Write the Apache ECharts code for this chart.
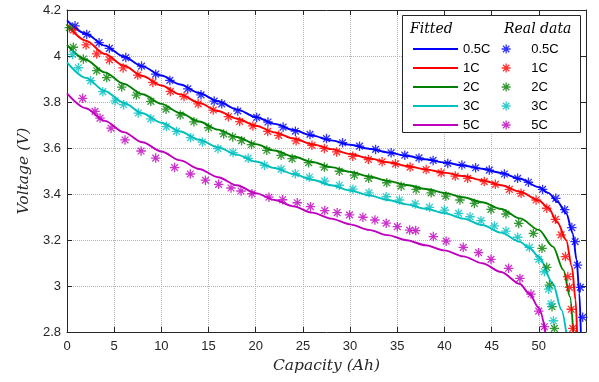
<!DOCTYPE html>
<html><head><meta charset="utf-8">
<script src="https://cdn.jsdelivr.net/npm/echarts@6/dist/echarts.min.js"></script>
<style>html,body{margin:0;padding:0;background:#fff}#c{width:599px;height:382px}</style>
</head><body><div id="c"></div>
<script>
// ---- data ----
const rateLabels = ['0.5C', '1C', '2C', '3C', '5C'];
const xTicks = [0, 5, 10, 15, 20, 25, 30, 35, 40, 45, 50];
const yTicks = [2.8, 3, 3.2, 3.4, 3.6, 3.8, 4, 4.2];

// fitted curves
const fitX05 = [0,2,4,6,8,10,12,14,16,18,20,22,24,26,28,30,32,34,36,38,40,42,44,46,48,50,51,52,52.9,53.6,54.0,54.3,54.45];
const fitV05 = [4.155,4.097,4.045,3.998,3.955,3.915,3.876,3.839,3.803,3.768,3.735,3.705,3.678,3.654,3.633,3.614,3.597,3.581,3.566,3.551,3.537,3.524,3.510,3.492,3.466,3.430,3.405,3.365,3.316,3.229,3.113,2.968,2.80];
const fitX1 = [0,2,4,6,8,10,12,14,16,18,20,22,24,26,28,30,32,34,36,38,40,42,44,46,48,50,51,52,52.9,53.5,53.9,54.05];
const fitV1 = [4.135,4.067,4.009,3.959,3.913,3.872,3.833,3.796,3.761,3.728,3.697,3.668,3.641,3.617,3.595,3.574,3.555,3.538,3.522,3.507,3.493,3.478,3.460,3.438,3.410,3.372,3.340,3.275,3.200,3.084,2.939,2.80];
const fitX2 = [0,2,4,6,8,10,12,14,16,18,20,22,24,26,28,30,32,34,36,38,40,42,44,46,48,50,51.5,52.6,53.3,53.65];
const fitV2 = [4.048,3.984,3.929,3.879,3.834,3.792,3.752,3.715,3.680,3.648,3.617,3.589,3.563,3.539,3.517,3.496,3.476,3.457,3.439,3.422,3.405,3.386,3.364,3.335,3.294,3.244,3.171,3.070,2.954,2.80];
const fitX3 = [0,2,4,6,8,10,12,14,16,18,20,22,24,26,28,30,32,34,36,38,40,42,44,46,48,49,50,51.5,52.4,52.9];
const fitV3 = [3.972,3.905,3.848,3.797,3.751,3.710,3.672,3.636,3.603,3.571,3.541,3.513,3.487,3.462,3.438,3.415,3.394,3.374,3.355,3.336,3.317,3.293,3.265,3.232,3.192,3.165,3.128,3.010,2.896,2.80];
const fitX5 = [0,2,4,6,8,10,12,14,16,18,20,22,24,26,28,30,32,34,36,38,40,42,44,46,48,49,50,50.7];
const fitV5 = [3.837,3.773,3.718,3.669,3.625,3.585,3.546,3.509,3.473,3.438,3.404,3.374,3.346,3.319,3.293,3.268,3.244,3.221,3.199,3.177,3.155,3.129,3.099,3.061,3.009,2.966,2.905,2.80];

// measured data
const realX05 = [0.85,2.09,3.40,4.49,6.23,7.9,9.4,10.9,12.8,14.2,15.6,16.4,18.1,20.1,21.3,22.9,24.2,25.75,27.5,29.2,31.0,32.7,34.35,35.8,37.3,38.8,40.35,41.85,43.3,44.75,46.35,47.75,48.9,50.4,51.8,52.75,53.5,53.85,54.1,54.4,54.65];
const realV05 = [4.131,4.094,4.058,4.033,3.993,3.956,3.921,3.894,3.857,3.831,3.804,3.792,3.761,3.733,3.713,3.691,3.673,3.659,3.641,3.623,3.608,3.594,3.579,3.569,3.557,3.546,3.533,3.526,3.514,3.504,3.487,3.468,3.451,3.420,3.381,3.332,3.254,3.193,3.091,2.994,2.864];
const realX1 = [0.67,2.02,3.15,4.49,5.95,7.5,9.1,10.95,12.4,13.9,15.5,17.1,18.3,19.7,21.27,22.44,24.28,25.96,27.27,28.58,30.28,31.94,33.39,34.81,36.36,38.06,39.65,41.14,42.46,44.22,45.39,46.88,48.12,49.71,50.84,51.76,52.36,52.82,53.07,53.25,53.43,53.6];
const realV1 = [4.113,4.048,4.009,3.983,3.948,3.917,3.885,3.846,3.824,3.792,3.765,3.736,3.715,3.696,3.672,3.655,3.631,3.612,3.598,3.583,3.564,3.550,3.540,3.531,3.517,3.506,3.492,3.478,3.468,3.454,3.442,3.420,3.403,3.374,3.338,3.290,3.222,3.128,3.041,2.994,2.899,2.816];
const realX2 = [0.25,0.67,1.73,3.15,4.21,5.8,7.35,8.88,10.5,12.0,13.45,15.0,16.6,17.56,18.5,19.55,21.17,22.69,23.86,25.61,27.27,28.86,30.45,31.97,33.89,35.41,37.0,38.59,40.15,41.64,43.17,44.93,46.52,47.87,49.42,50.34,50.84,51.12,51.4,51.65];
const realV2 = [4.123,4.038,3.987,3.936,3.906,3.865,3.830,3.803,3.769,3.743,3.714,3.688,3.661,3.648,3.632,3.615,3.590,3.568,3.554,3.536,3.517,3.499,3.482,3.468,3.449,3.434,3.420,3.405,3.391,3.374,3.359,3.333,3.313,3.272,3.229,3.164,3.081,3.004,2.910,2.816];
const realX3 = [0.6,1.2,2.51,3.79,5.1,6.0,7.55,8.88,10.53,11.6,13.1,14.35,16.0,17.6,19.2,20.92,22.69,24.19,25.68,27.3,28.86,30.3,32.0,33.82,35.23,36.9,38.41,40.0,41.5,42.71,43.87,45.29,46.52,47.76,49.0,49.99,50.59,51.05,51.3,51.55];
const realV3 = [4.007,3.949,3.893,3.845,3.805,3.788,3.752,3.727,3.693,3.672,3.645,3.626,3.597,3.580,3.555,3.525,3.508,3.488,3.473,3.456,3.438,3.421,3.405,3.388,3.374,3.357,3.342,3.330,3.316,3.301,3.284,3.261,3.239,3.212,3.168,3.116,3.062,2.986,2.922,2.849];
const realX5 = [1.66,2.97,3.50,4.67,6.15,7.85,9.4,11.4,13.07,14.67,16.07,17.38,18.44,19.6,21.4,22.85,24.4,25.8,27.32,28.63,29.94,31.36,32.63,33.83,35.0,36.31,36.95,38.82,40.18,41.99,43.62,44.93,46.8,48.0,49.17,49.99,50.59];
const realV5 = [3.816,3.759,3.730,3.686,3.635,3.587,3.556,3.515,3.487,3.460,3.442,3.426,3.413,3.401,3.386,3.375,3.362,3.345,3.328,3.319,3.309,3.299,3.287,3.273,3.258,3.243,3.241,3.215,3.195,3.168,3.145,3.116,3.077,3.033,2.965,2.891,2.823];

// ---- styling ----
const colors = ['#0000ff', '#ff0000', '#008000', '#00bfbf', '#bf00bf'];
const fitXs = [fitX05, fitX1, fitX2, fitX3, fitX5];
const fitVs = [fitV05, fitV1, fitV2, fitV3, fitV5];
const realXs = [realX05, realX1, realX2, realX3, realX5];
const realVs = [realV05, realV1, realV2, realV3, realV5];
const SANS = '"Liberation Sans", Arial, Helvetica, sans-serif';
const SERIF = '"DejaVu Serif", serif';
const AX = '#262626';
const STAR = 'path://M5,0L5,10M0,5L10,5M1.46,1.46L8.54,8.54M1.46,8.54L8.54,1.46';

const zip = (xs, ys) => xs.map((x, i) => [x, ys[i]]);

const series = [];
rateLabels.forEach((lab, k) => {
  series.push({
    name: 'F|' + lab, type: 'line', data: zip(fitXs[k], fitVs[k]),
    showSymbol: false, symbol: 'none', smooth: 0.3, smoothMonotone: 'x',
    lineStyle: { color: colors[k], width: 1.9 }, itemStyle: { color: colors[k] },
    z: 2, animation: false
  });
});
rateLabels.forEach((lab, k) => {
  series.push({
    name: 'R|' + lab, type: 'scatter', data: zip(realXs[k], realVs[k]),
    symbol: STAR, symbolSize: 9.5,
    itemStyle: { color: colors[k], borderColor: colors[k], borderWidth: 1.3 },
    z: 3, animation: false
  });
});

const baseX = {
  type: 'value', min: 0, max: 55, interval: 5,
  axisLine: { show: true, onZero: false, lineStyle: { color: AX, width: 1 } },
  axisTick: { show: true, inside: true, length: 5, lineStyle: { color: AX } }
};
const baseY = {
  type: 'value', min: yTicks[0], max: yTicks[yTicks.length - 1], interval: 0.2,
  axisLine: { show: true, onZero: false, lineStyle: { color: AX, width: 1 } },
  axisTick: { show: true, inside: true, length: 5, lineStyle: { color: AX } }
};

const option = {
  backgroundColor: '#fff',
  animation: false,
  grid: { left: 67, right: 13, top: 10, bottom: 50 },
  xAxis: [
    Object.assign({}, baseX, {
      position: 'bottom',
      axisLabel: { show: true, fontSize: 13, fontFamily: SANS, color: AX, margin: 8,
        showMaxLabel: false,
        formatter: v => (xTicks.indexOf(v) >= 0 ? String(v) : '') },
      splitLine: { show: true, lineStyle: { type: 'dotted', color: '#b4b4b4', width: 1 } },
      name: 'Capacity (Ah)', nameLocation: 'middle', nameGap: 26,
      nameTextStyle: { fontFamily: SERIF, fontStyle: 'italic', fontSize: 15.5, color: AX }
    }),
    Object.assign({}, baseX, {
      position: 'top', axisLabel: { show: false }, splitLine: { show: false }
    })
  ],
  yAxis: [
    Object.assign({}, baseY, {
      position: 'left',
      axisLabel: { show: true, fontSize: 13, fontFamily: SANS, color: AX, margin: 6,
        formatter: v => { const r = Math.round(v * 10) / 10; return yTicks.indexOf(r) >= 0 ? String(r) : ''; } },
      splitLine: { show: true, lineStyle: { type: 'dotted', color: '#b4b4b4', width: 1 } },
      name: 'Voltage (V)', nameLocation: 'middle', nameGap: 33,
      nameTextStyle: { fontFamily: SERIF, fontStyle: 'italic', fontSize: 15.5, color: AX }
    }),
    Object.assign({}, baseY, {
      position: 'right', axisLabel: { show: false }, splitLine: { show: false }
    })
  ],
  legend: [
    {
      data: rateLabels.map(l => ({ name: 'F|' + l, icon: 'rect' })),
      orient: 'vertical', left: 413, top: 39.5, padding: 0, itemGap: 0,
      itemWidth: 45, itemHeight: 2, selectedMode: false, z: 8,
      formatter: n => n.split('|')[1],
      textStyle: { fontSize: 13, lineHeight: 19, fontFamily: SANS, color: '#000' }
    },
    {
      data: rateLabels.map(l => 'R|' + l),
      orient: 'vertical', left: 501, top: 39.5, padding: 0, itemGap: 0,
      itemWidth: 40, itemHeight: 9, selectedMode: false, z: 8,
      itemStyle: { borderWidth: 1.3 },
      formatter: n => n.split('|')[1],
      textStyle: { fontSize: 13, lineHeight: 19, fontFamily: SANS, color: '#000' }
    }
  ],
  graphic: [
    { type: 'rect', z: 6, shape: { x: 402.5, y: 15.5, width: 178, height: 117 },
      style: { fill: '#fff', stroke: AX, lineWidth: 1 } },
    { type: 'text', z: 7, x: 410, y: 29,
      style: { text: 'Fitted', font: 'italic 14px ' + SERIF, fill: '#000', verticalAlign: 'middle' } },
    { type: 'text', z: 7, x: 504, y: 29,
      style: { text: 'Real data', font: 'italic 14px ' + SERIF, fill: '#000', verticalAlign: 'middle' } }
  ],
  series: series
};

const chart = echarts.init(document.getElementById('c'), null, { renderer: 'canvas' });
chart.setOption(option);
</script>
</body></html>
